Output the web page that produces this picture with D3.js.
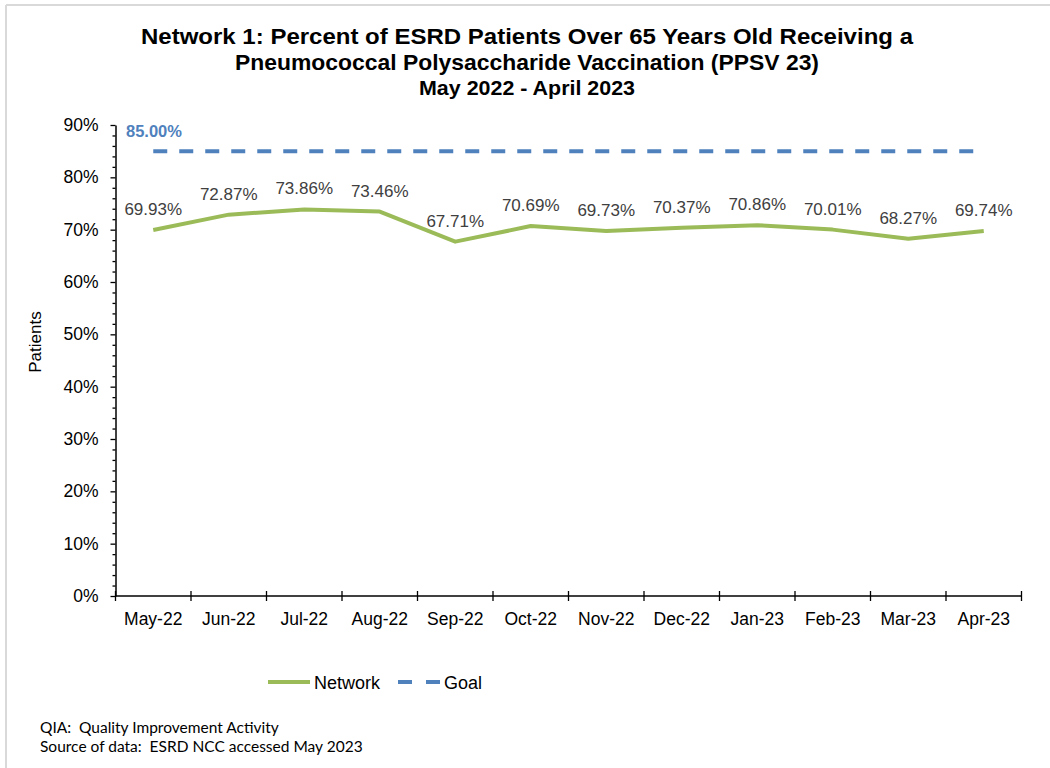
<!DOCTYPE html>
<html>
<head>
<meta charset="utf-8">
<script src="https://cdn.jsdelivr.net/npm/d3@7"></script>
<style>
  html, body { margin: 0; padding: 0; background: #fff; }
  svg { display: block; }
</style>
</head>
<body>
<svg id="chart" width="1050" height="768"></svg>
<script>
// Monthly PPSV23 vaccination rate for patients over 65
const months = ["May-22","Jun-22","Jul-22","Aug-22","Sep-22","Oct-22","Nov-22","Dec-22","Jan-23","Feb-23","Mar-23","Apr-23"];
const networkValues = [69.93, 72.87, 73.86, 73.46, 67.71, 70.69, 69.73, 70.37, 70.86, 70.01, 68.27, 69.74];
const goalValue = 85.00;
const yTicks = [0, 10, 20, 30, 40, 50, 60, 70, 80, 90];
const titleLines = [
  "Network 1: Percent of ESRD Patients Over 65 Years Old Receiving a",
  "Pneumococcal Polysaccharide Vaccination (PPSV 23)"
];
const subtitle = "May 2022 - April 2023";
const footnotes = ["QIA:  Quality Improvement Activity", "Source of data:  ESRD NCC accessed May 2023"];

const GREEN = "#9bbb59";
const BLUE = "#4f81bd";
const AXIS = "#000";
const FONT = "Liberation Sans, Arial, sans-serif";

const svg = d3.select("#chart");

// outer frame (top and left edges)
svg.append("line").attr("x1", 6).attr("x2", 1050).attr("y1", 5).attr("y2", 5)
  .attr("stroke", "#d9d9d9").attr("stroke-width", 2);
svg.append("line").attr("x1", 6).attr("x2", 6).attr("y1", 5).attr("y2", 768)
  .attr("stroke", "#d9d9d9").attr("stroke-width", 2);

const plot = { left: 115.5, right: 1021.5, top: 125, bottom: 596 };

const x = d3.scaleBand().domain(months).range([plot.left, plot.right]).padding(0);
const y = d3.scaleLinear().domain([0, 90]).range([plot.bottom, plot.top]);
const cx = m => x(m) + x.bandwidth() / 2;

// titles (condensed to fit the header width)
const title = svg.append("g").attr("font-family", FONT).attr("font-weight", "bold")
  .attr("text-anchor", "middle").attr("fill", "#000");
const titleWidths = [772, 584];
titleLines.forEach((t, i) => {
  title.append("text").attr("x", 527).attr("y", 44 + i * 26).attr("font-size", 22.5)
    .attr("textLength", titleWidths[i]).attr("lengthAdjust", "spacingAndGlyphs").text(t);
});
title.append("text").attr("x", 527).attr("y", 95).attr("font-size", 20)
  .attr("textLength", 216).attr("lengthAdjust", "spacingAndGlyphs").text(subtitle);

// y axis with minor ticks
const minorTicks = d3.range(0, 90.001, 2).filter(v => v % 10 !== 0);
svg.append("g")
  .attr("transform", `translate(${plot.left},0)`)
  .call(d3.axisLeft(y).tickValues(minorTicks).tickSize(3).tickFormat(""))
  .call(g => g.select(".domain").remove())
  .call(g => g.selectAll("line").attr("stroke", AXIS).attr("stroke-width", 1.3));

svg.append("g")
  .attr("transform", `translate(${plot.left},0)`)
  .call(d3.axisLeft(y).tickValues(yTicks).tickSize(5).tickSizeOuter(0).tickPadding(12).tickFormat(d => d + "%"))
  .call(g => g.select(".domain").attr("stroke", AXIS).attr("stroke-width", 1.5))
  .call(g => g.selectAll("line").attr("stroke", AXIS).attr("stroke-width", 1.3))
  .call(g => g.selectAll("text").attr("font-family", FONT).attr("font-size", 17.5).attr("fill", "#000"));

// x axis with ticks on category boundaries
const xAxisG = svg.append("g").attr("transform", `translate(0,${plot.bottom})`);
xAxisG.append("line").attr("x1", plot.left).attr("x2", plot.right)
  .attr("stroke", AXIS).attr("stroke-width", 1.5);
const boundaries = months.map(m => x(m)).concat([plot.right]);
xAxisG.selectAll("line.tick").data(boundaries).join("line").attr("class", "tick")
  .attr("x1", d => d).attr("x2", d => d).attr("y1", -5).attr("y2", 5)
  .attr("stroke", AXIS).attr("stroke-width", 1.3);
xAxisG.selectAll("text").data(months).join("text")
  .attr("x", d => cx(d)).attr("y", 29).attr("text-anchor", "middle")
  .attr("font-family", FONT).attr("font-size", 17.5).attr("fill", "#000").text(d => d);

// y axis title
svg.append("text").attr("transform", "translate(41,342) rotate(-90)")
  .attr("text-anchor", "middle").attr("font-family", FONT).attr("font-size", 17)
  .attr("fill", "#000").text("Patients");

// goal line
svg.append("line")
  .attr("x1", cx(months[0])).attr("x2", cx(months[months.length - 1]))
  .attr("y1", y(goalValue)).attr("y2", y(goalValue))
  .attr("stroke", BLUE).attr("stroke-width", 4).attr("stroke-dasharray", "14,12");
svg.append("text").attr("x", 126).attr("y", y(goalValue) - 14)
  .attr("font-family", FONT).attr("font-size", 16.5).attr("font-weight", "bold")
  .attr("fill", BLUE).text(goalValue.toFixed(2) + "%");

// network series
const line = d3.line().x((d, i) => cx(months[i])).y(d => y(d));
svg.append("path").datum(networkValues).attr("d", line)
  .attr("fill", "none").attr("stroke", GREEN).attr("stroke-width", 4)
  .attr("stroke-linejoin", "round");

svg.append("g").selectAll("text").data(networkValues).join("text")
  .attr("x", (d, i) => cx(months[i])).attr("y", d => y(d) - 15)
  .attr("text-anchor", "middle").attr("font-family", FONT).attr("font-size", 17)
  .attr("fill", "#404040").text(d => d.toFixed(2) + "%");

// legend
const legend = svg.append("g").attr("font-family", FONT).attr("font-size", 18).attr("fill", "#000");
legend.append("line").attr("x1", 268).attr("x2", 310).attr("y1", 682).attr("y2", 682)
  .attr("stroke", GREEN).attr("stroke-width", 4);
legend.append("text").attr("x", 314).attr("y", 688.5).text("Network");
legend.append("line").attr("x1", 398).attr("x2", 440).attr("y1", 682).attr("y2", 682)
  .attr("stroke", BLUE).attr("stroke-width", 4).attr("stroke-dasharray", "14,14");
legend.append("text").attr("x", 444).attr("y", 688.5).text("Goal");

// footnotes
const foot = svg.append("g").attr("font-family", "Lato, Carlito, sans-serif").attr("font-size", 15.5).attr("fill", "#000");
footnotes.forEach((t, i) => {
  foot.append("text").attr("x", 40).attr("y", 733 + i * 19).attr("xml:space", "preserve")
    .style("white-space", "pre").text(t);
});
</script>
</body>
</html>
